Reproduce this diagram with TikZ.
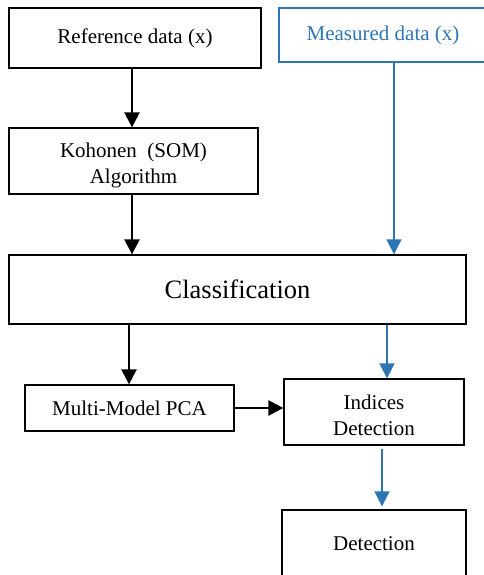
\documentclass[tikz,border=0pt]{standalone}
\usepackage{fontspec}
\setmainfont{Liberation Serif}
\usetikzlibrary{arrows.meta}
\definecolor{mblue}{RGB}{46,117,182}
\tikzset{
  box/.style={draw=black, line width=1.3pt, inner sep=0pt, align=center, font=\fontsize{21}{25}\selectfont},
  bbox/.style={draw=mblue, line width=1.3pt, inner sep=0pt, align=center, text=mblue, font=\fontsize{21}{25}\selectfont},
  txt/.style={inner sep=0pt, align=center, font=\fontsize{21}{26}\selectfont},
  arr/.style={draw=black, line width=2.5pt, -{Triangle[length=15pt,width=15pt]}},
  barr/.style={draw=mblue, line width=1.7pt, -{Triangle[length=15pt,width=15pt]}}
}
\begin{document}
\begin{tikzpicture}[x=1pt,y=-1pt]
\useasboundingbox (0,0) rectangle (484,575);
\clip (0,0) rectangle (484,575);
\node[box, minimum width=252pt, minimum height=60pt] (ref) at (135,38) {Reference data (x)};
\node[bbox, minimum width=208pt, minimum height=54pt] (meas) at (383,35) {Measured data (x)};
\node[box, minimum width=249pt, minimum height=66pt] (koh) at (133.5,161) {};
\node[txt] (kohT) at (133.5,165) {Kohonen~ (SOM)\\Algorithm};
\node[box, minimum width=457pt, minimum height=69pt, font=\fontsize{26.5}{30}\selectfont] (cls) at (237.5,289.5) {Classification};
\node[box, minimum width=209pt, minimum height=46pt] (pca) at (129.5,408) {Multi-Model PCA};
\node[box, minimum width=180pt, minimum height=66pt] (ind) at (374,412) {};
\node[txt] (indT) at (374,415) {Indices\\Detection};
\node[box, minimum width=184pt, minimum height=68pt] (det) at (374,544) {Detection};
\coordinate (c1) at (132,0);
\coordinate (c2) at (394,0);
\coordinate (c3) at (129,0);
\coordinate (c4) at (387,0);
\coordinate (c5) at (382,0);
\draw[arr] (ref.south -| c1) -- (koh.north -| c1);
\draw[arr] (koh.south -| c1) -- (cls.north -| c1);
\draw[barr] (meas.south -| c2) -- (cls.north -| c2);
\draw[arr] (cls.south -| c3) -- (pca.north -| c3);
\draw[barr] (cls.south -| c4) -- (ind.north -| c4);
\draw[arr] (pca.east) -- (pca.east -| ind.west);
\draw[barr, shorten <=3pt, shorten >=3pt] (ind.south -| c5) -- (det.north -| c5);
\end{tikzpicture}
\end{document}
